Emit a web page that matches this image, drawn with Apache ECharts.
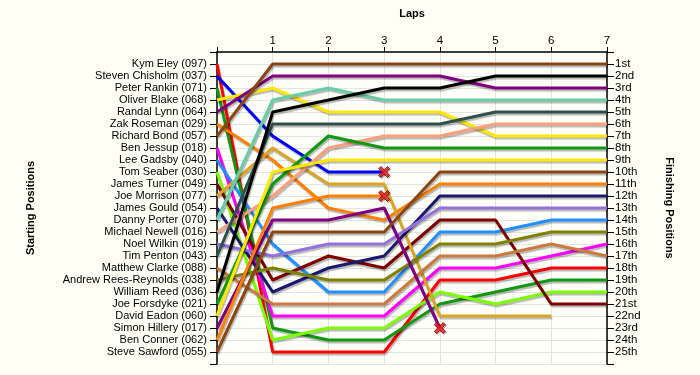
<!DOCTYPE html>
<html>
<head>
<meta charset="utf-8">
<script src="https://cdn.jsdelivr.net/npm/echarts@6/dist/echarts.min.js"></script>
<style>
  html, body { margin: 0; padding: 0; background: #fffff5; }
  #chart { width: 700px; height: 375px; }
</style>
</head>
<body>
<div id="chart"></div>
<script>
const laps = [0, 1, 2, 3, 4, 5, 6, 7];

const drivers = [
  'Kym Eley (097)', 'Steven Chisholm (037)', 'Peter Rankin (071)', 'Oliver Blake (068)',
  'Randal Lynn (064)', 'Zak Roseman (029)', 'Richard Bond (057)', 'Ben Jessup (018)',
  'Lee Gadsby (040)', 'Tom Seaber (030)', 'James Turner (049)', 'Joe Morrison (077)',
  'James Gould (054)', 'Danny Porter (070)', 'Michael Newell (016)', 'Noel Wilkin (019)',
  'Tim Penton (043)', 'Matthew Clarke (088)', 'Andrew Rees-Reynolds (038)', 'William Reed (036)',
  'Joe Forsdyke (021)', 'David Eadon (060)', 'Simon Hillery (017)', 'Ben Conner (062)',
  'Steve Sawford (055)'
];

// position of each driver at lap 0..7 (shorter list = dropped out)
const positions = [
  [1, 25, 25, 25, 19, 19, 18, 18],
  [2, 7, 10, 10],
  [3, 23, 24, 24, 21, 20, 19, 19],
  [4, 3, 5, 5, 5, 7, 7, 7],
  [5, 2, 2, 2, 2, 3, 3, 3],
  [6, 9, 13, 14, 11, 11, 11, 11],
  [7, 1, 1, 1, 1, 1, 1, 1],
  [8, 22, 22, 22, 18, 18, 17, 16],
  [9, 16, 20, 20, 15, 15, 14, 14],
  [10, 24, 23, 23, 20, 21, 20, 20],
  [11, 19, 17, 18, 14, 14, 21, 21],
  [12, 8, 11, 11, 22, 22, 22],
  [13, 20, 18, 17, 12, 12, 12, 12],
  [14, 4, 3, 4, 4, 4, 4, 4],
  [15, 12, 8, 7, 7, 6, 6, 6],
  [16, 17, 16, 16, 13, 13, 13, 13],
  [17, 6, 6, 6, 6, 5, 5, 5],
  [18, 21, 21, 21, 17, 17, 16, 17],
  [19, 18, 19, 19, 16, 16, 15, 15],
  [20, 5, 4, 3, 3, 2, 2, 2],
  [21, 11, 7, 8, 8, 8, 8, 8],
  [22, 10, 9, 9, 9, 9, 9, 9],
  [23, 14, 14, 13, 23],
  [24, 13, 12, 12],
  [25, 15, 15, 15, 10, 10, 10, 10]
];

const retired = ['Steven Chisholm (037)', 'Ben Conner (062)', 'Simon Hillery (017)'];

const finishLabels = [
  '1st', '2nd', '3rd', '4th', '5th', '6th', '7th', '8th', '9th', '10th',
  '11th', '12th', '13th', '14th', '15th', '16th', '17th', '18th', '19th', '20th',
  '21st', '22nd', '23rd', '24th', '25th'
];

const palette = [
  '#ff0000', '#0000ff', '#109910', '#ffe800', '#800080', '#ff8000', '#8b4513', '#ff00ff',
  '#1e90ff', '#7cfc00', '#800000', '#daa520', '#191970', '#66cdaa', '#f9a07c', '#9370db',
  '#2f4f4f', '#cd7a3f', '#808000', '#000000',
  '#109910', '#ffe800', '#800080', '#ff8000', '#8b4513'
];

const chart = echarts.init(document.getElementById('chart'));

const font = 'Liberation Sans, Arial, sans-serif';
const gridColor = '#e4e4e4';

const lineSeries = drivers.map((name, i) => ({
  name: name,
  type: 'line',
  showSymbol: false,
  symbol: 'none',
  yAxisIndex: 0,
  lineStyle: {
    color: palette[i],
    width: 3,
    shadowColor: 'rgba(0,0,0,0.28)',
    shadowBlur: 1,
    shadowOffsetX: 1,
    shadowOffsetY: 2
  },
  emphasis: { disabled: true },
  data: positions[i].map((p, lap) => [laps[lap], p])
}));

const crosses = retired.map((name) => {
  const p = positions[drivers.indexOf(name)];
  return [laps[p.length - 1], p[p.length - 1]];
});

const crossPath = 'path://M2,0 L5,3 L8,0 L10,2 L7,5 L10,8 L8,10 L5,7 L2,10 L0,8 L3,5 L0,2 Z';

chart.setOption({
  animation: false,
  backgroundColor: '#fffff5',
  grid: { left: 217, top: 52, width: 390, height: 312, show: true, backgroundColor: '#fffffa', borderWidth: 0 },
  xAxis: {
    type: 'value',
    position: 'top',
    min: 0,
    max: 7,
    interval: 1,
    name: 'Laps',
    nameLocation: 'middle',
    nameGap: 33,
    nameTextStyle: { fontFamily: font, fontSize: 11, fontWeight: 'bold', color: '#000' },
    axisLine: { lineStyle: { color: '#000', width: 1.5 } },
    axisTick: { show: true, length: 5, lineStyle: { color: '#000' } },
    axisLabel: {
      fontFamily: font, fontSize: 11.5, color: '#000', margin: 5,
      formatter: (v) => (v === 0 ? '' : String(v))
    },
    splitLine: { show: true, lineStyle: { color: gridColor, width: 1 } }
  },
  yAxis: [
    {
      type: 'value',
      inverse: true,
      min: 0,
      max: 26,
      interval: 1,
      position: 'left',
      name: 'Starting Positions',
      nameLocation: 'middle',
      nameRotate: 90,
      nameGap: 181,
      nameTextStyle: { fontFamily: font, fontSize: 11, fontWeight: 'bold', color: '#000' },
      axisLine: { show: true, lineStyle: { color: '#000', width: 1.5 } },
      axisTick: { show: true, length: 7, lineStyle: { color: '#000' } },
      axisLabel: {
        fontFamily: font, fontSize: 11, color: '#000', margin: 10,
        formatter: (v) => (v >= 1 && v <= drivers.length ? drivers[v - 1] : '')
      },
      splitLine: { show: true, lineStyle: { color: gridColor, width: 1 } }
    },
    {
      type: 'value',
      inverse: true,
      min: 0,
      max: 26,
      interval: 1,
      position: 'right',
      name: 'Finishing Positions',
      nameLocation: 'middle',
      nameRotate: -90,
      nameGap: 57,
      nameTextStyle: { fontFamily: font, fontSize: 11, fontWeight: 'bold', color: '#000' },
      axisLine: { show: true, lineStyle: { color: '#000', width: 1.5 } },
      axisTick: { show: true, length: 7, lineStyle: { color: '#000' } },
      axisLabel: {
        fontFamily: font, fontSize: 11.5, color: '#000', margin: 8,
        formatter: (v) => (v >= 1 && v <= finishLabels.length ? finishLabels[v - 1] : '')
      },
      splitLine: { show: false }
    }
  ],
  series: lineSeries.concat([{
    name: 'Retired',
    type: 'scatter',
    symbol: crossPath,
    symbolSize: 11,
    z: 5,
    itemStyle: {
      color: '#ff1a1a',
      borderColor: '#7a0000',
      borderWidth: 1,
      shadowColor: 'rgba(0,0,0,0.3)',
      shadowOffsetX: 1,
      shadowOffsetY: 1
    },
    emphasis: { disabled: true },
    data: crosses
  }])
});
</script>
</body>
</html>
